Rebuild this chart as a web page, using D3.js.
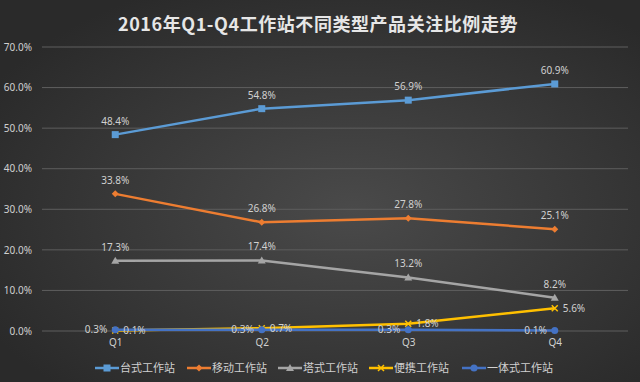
<!DOCTYPE html>
<html><head><meta charset="utf-8">
<script src="https://cdn.jsdelivr.net/npm/d3@7"></script>
<style>html,body{margin:0;padding:0;background:#333;}svg{display:block;}</style>
</head><body>
<svg id="c" width="640" height="382"></svg>
<script>
const title = "2016年Q1-Q4工作站不同类型产品关注比例走势";
const categories = ["Q1","Q2","Q3","Q4"];
const yTicks = [0,10,20,30,40,50,60,70];
const seriesNames = ["台式工作站","移动工作站","塔式工作站","便携工作站","一体式工作站"];
const desktop = [48.4,54.8,56.9,60.9];
const mobile = [33.8,26.8,27.8,25.1];
const tower = [17.3,17.4,13.2,8.2];
const portable = [0.1,0.7,1.8,5.6];
const allInOne = [0.3,0.3,0.3,0.1];
const colors = ["#5B9BD5","#ED7D31","#A5A5A5","#FFC000","#4472C4"];
const markers = ["square","diamond","triangle","cross","circle"];
const labelPos = ["top","top","top","right","left"];

const series = [desktop,mobile,tower,portable,allInOne].map((v,i)=>({name:seriesNames[i],values:v,color:colors[i],marker:markers[i],label:labelPos[i]}));

const W=640,H=382;
const svg=d3.select("#c");
const defs=svg.append("defs");
const rg=defs.append("radialGradient").attr("id","bg").attr("cx","55%").attr("cy","55%").attr("r","65%");
rg.append("stop").attr("offset","0%").attr("stop-color","#4a4a4a");
rg.append("stop").attr("offset","100%").attr("stop-color","#2a2a2a");
svg.append("rect").attr("width",W).attr("height",H).attr("fill","url(#bg)");

const tt=svg.append("text").attr("x",318).attr("y",31).attr("text-anchor","middle")
  .attr("font-family","'Noto Sans CJK SC','Noto Sans',sans-serif").attr("font-weight","bold")
  .attr("font-size",18).attr("fill","#e6e6e6").text(title);
// stretch title to reference width
const tw=tt.node().getComputedTextLength();
tt.attr("letter-spacing",Math.max(0,(400-tw)/title.length));

const pLeft=42,pRight=628,pTop=47,pBottom=331;
const x=d3.scalePoint().domain(categories).range([pLeft,pRight]).padding(0.5);
const y=d3.scaleLinear().domain([0,70]).range([pBottom,pTop]);

const font="'Noto Sans','DejaVu Sans',sans-serif";
const txtCol="#d0d0d0";

// gridlines
svg.append("g").selectAll("line").data(yTicks).join("line")
  .attr("x1",pLeft).attr("x2",pRight).attr("y1",d=>y(d)).attr("y2",d=>y(d))
  .attr("stroke","#5e5e5e").attr("stroke-width",1);

// y axis
const yAxis=d3.axisLeft(y).tickValues(yTicks).tickFormat(d=>d.toFixed(1)+"%").tickSize(0).tickPadding(10);
const gy=svg.append("g").attr("transform",`translate(${pLeft},0)`).call(yAxis);
gy.select(".domain").remove();
gy.selectAll("text").attr("font-family",font).attr("font-size",10).attr("fill",txtCol);

// x axis
const xAxis=d3.axisBottom(x).tickSize(0).tickPadding(8);
const gx=svg.append("g").attr("transform",`translate(0,${pBottom})`).call(xAxis);
gx.select(".domain").remove();
gx.selectAll("text").attr("font-family",font).attr("font-size",10).attr("fill",txtCol);

const line=d3.line().x((d,i)=>x(categories[i])).y(d=>y(d));

function drawMarker(g,type,cx,cy,color){
  if(type==="square") g.append("rect").attr("x",cx-3.5).attr("y",cy-3.5).attr("width",7).attr("height",7).attr("fill",color);
  else if(type==="diamond") g.append("path").attr("d",`M${cx},${cy-3.5}L${cx+3.5},${cy}L${cx},${cy+3.5}L${cx-3.5},${cy}Z`).attr("fill",color);
  else if(type==="triangle") g.append("path").attr("d",`M${cx},${cy-4}L${cx+4},${cy+3}L${cx-4},${cy+3}Z`).attr("fill",color);
  else if(type==="cross") g.append("path").attr("d",`M${cx-3},${cy-3}L${cx+3},${cy+3}M${cx+3},${cy-3}L${cx-3},${cy+3}`).attr("stroke",color).attr("stroke-width",1.5);
  else g.append("circle").attr("cx",cx).attr("cy",cy).attr("r",3.5).attr("fill",color);
}

series.forEach(s=>{
  const g=svg.append("g");
  g.append("path").attr("d",line(s.values)).attr("fill","none").attr("stroke",s.color).attr("stroke-width",2.5).attr("stroke-linejoin","round");
  s.values.forEach((v,i)=>drawMarker(g,s.marker,x(categories[i]),y(v),s.color));
});
series.forEach(s=>{
  s.values.forEach((v,i)=>{
    const cx=x(categories[i]),cy=y(v);
    const t=svg.append("text").attr("font-family",font).attr("font-size",10).attr("fill",txtCol).text(v.toFixed(1)+"%");
    if(s.label==="top") t.attr("x",cx).attr("y",cy-10).attr("text-anchor","middle");
    else if(s.label==="right") t.attr("x",cx+8).attr("y",cy+3.5).attr("text-anchor","start");
    else t.attr("x",cx-8).attr("y",cy+3.5).attr("text-anchor","end");
  });
});

// legend
const legX=[95,187,278,369,462];
const legY=368;
series.forEach((s,i)=>{
  const g=svg.append("g");
  g.append("line").attr("x1",legX[i]).attr("x2",legX[i]+24).attr("y1",legY).attr("y2",legY).attr("stroke",s.color).attr("stroke-width",2.5);
  drawMarker(g,s.marker,legX[i]+12,legY,s.color);
  g.append("text").attr("x",legX[i]+25).attr("y",legY+4).attr("font-family","'Noto Sans CJK SC',sans-serif").attr("font-size",11).attr("fill",txtCol).text(s.name);
});
</script>
</body></html>
